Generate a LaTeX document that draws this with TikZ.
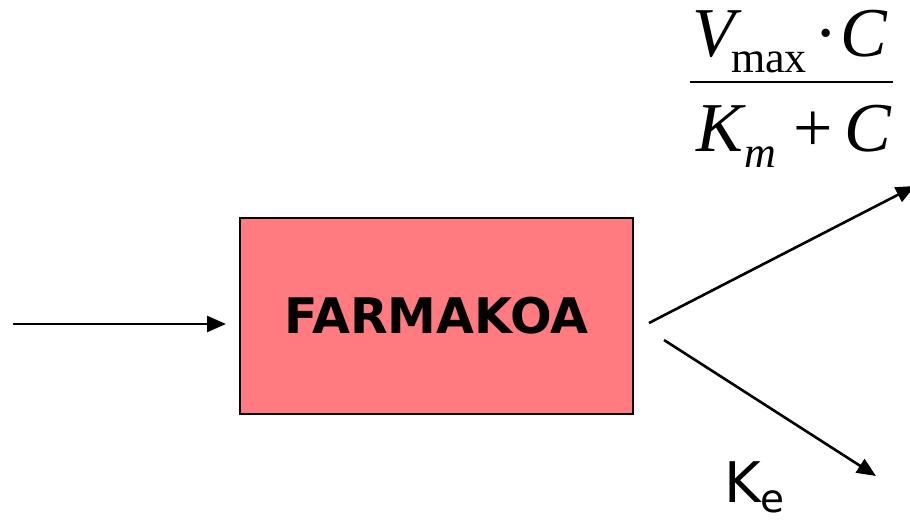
\documentclass[tikz,border=0pt]{standalone}
\usepackage{fontspec}
\setmainfont{Liberation Serif}
\newfontfamily\vsans{DejaVu Sans}
\usetikzlibrary{arrows.meta}
\definecolor{boxfill}{RGB}{255,123,128}
\tikzset{
  arr/.style={line width=2.6pt, -{Triangle[length=19pt,width=16pt]}},
  txt/.style={inner sep=0pt, outer sep=0pt, anchor=base west},
  big/.style={font=\fontsize{70}{70}\selectfont},
  bigit/.style={font=\itshape\fontsize{70}{70}\selectfont},
  small/.style={font=\fontsize{44}{44}\selectfont},
}
\begin{document}
\begin{tikzpicture}[x=1pt,y=-1pt]
\useasboundingbox (0,0) rectangle (910,521);
% box
\node[draw=black, line width=2.5pt, fill=boxfill, minimum width=393pt, minimum height=196pt, inner sep=0pt,
  font=\vsans\bfseries\fontsize{49}{49}\selectfont] (box) at (436.5,316) {FARMAKOA};
% connectors
\coordinate (inS) at (13,324);
\coordinate (inE) at (226,324);
\coordinate (upS) at (649,323);
\coordinate (upE) at (915,186);
\coordinate (dnS) at (664,340);
\coordinate (dnE) at (876,476);
\draw[arr] (inS) -- (inE);
\draw[arr] (upS) -- (upE);
\draw[arr] (dnS) -- (dnE);
% fraction Vmax*C / (Km + C)
\node[txt, bigit] (V) at (692,57) {V};
\node[txt, small] (max) at (731,73) {max};
\node[txt, big] (dot) at (814,57) {·};
\node[txt, bigit] (C1) at (840,57) {C};
\draw[line width=2.8pt] (690,82) coordinate (barL) -- (893,82) coordinate (barR);
\node[txt, bigit] (K) at (696,152) {K};
\node[txt, small, font=\itshape\fontsize{44}{44}\selectfont] (m) at (744,168) {m};
\node[txt, big] (plus) at (793,152) {+};
\node[txt, bigit] (C2) at (844,152) {C};
% Ke
\node[txt, font=\vsans\fontsize{56}{56}\selectfont] (Kk) at (724,502) {K};
\node[txt, font=\vsans\fontsize{39}{39}\selectfont] (ke) at (760,512) {e};
\end{tikzpicture}
\end{document}
